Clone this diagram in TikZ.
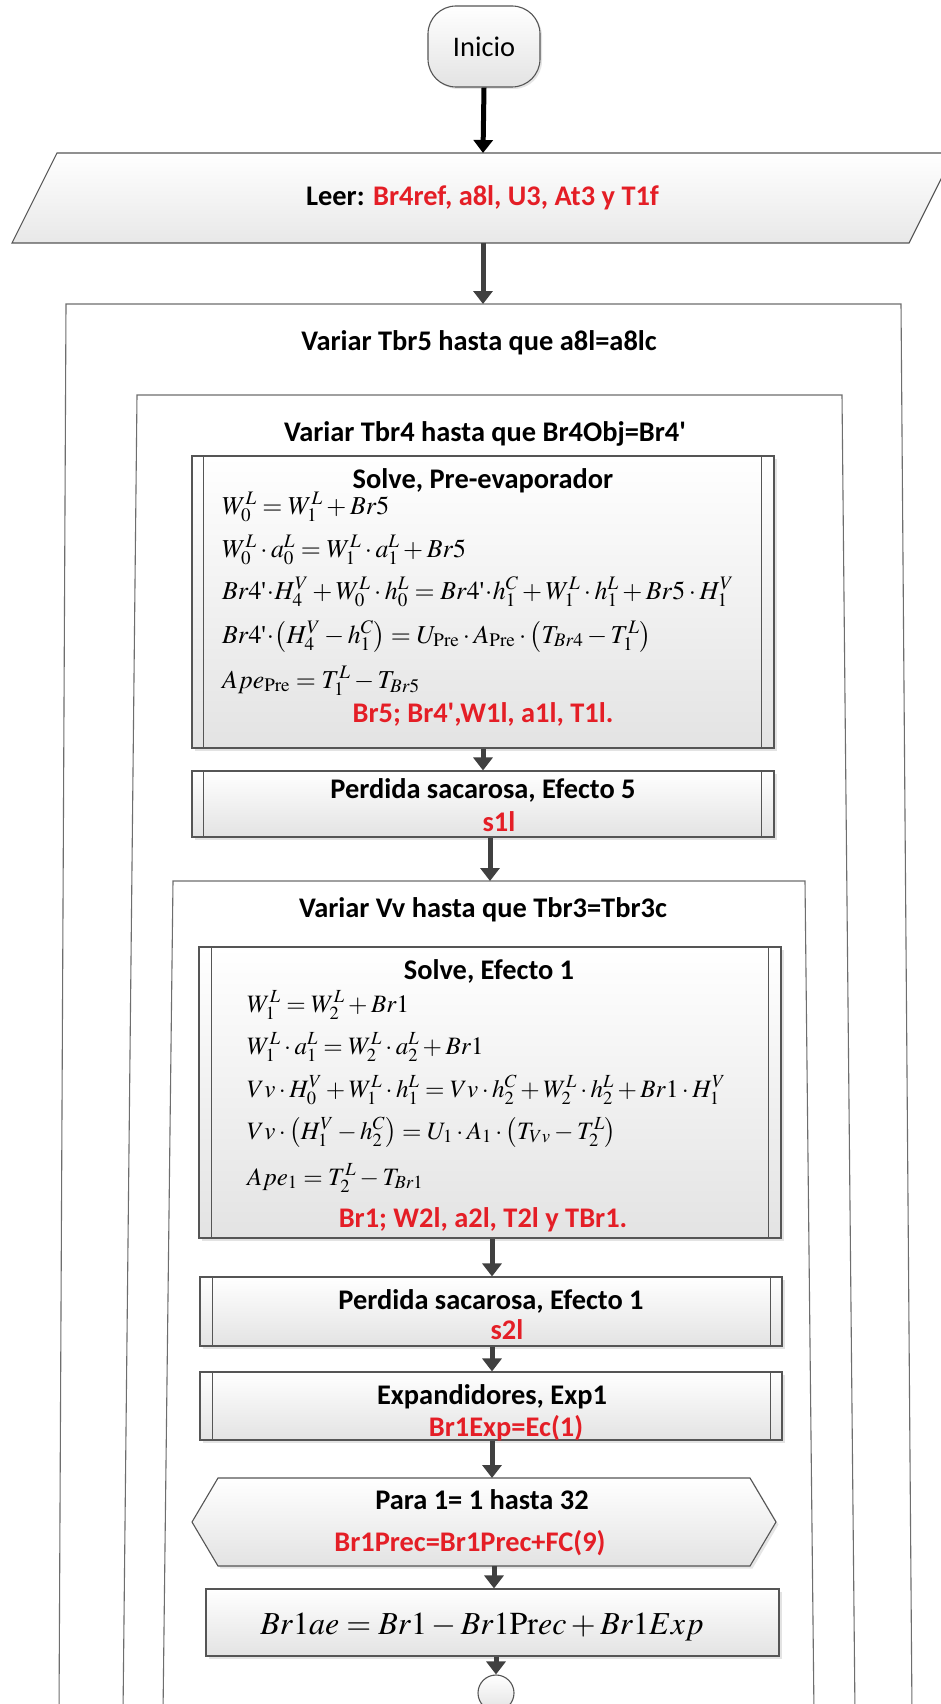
\documentclass[tikz,border=0pt]{standalone}
\usepackage{mathptmx}
\usepackage[no-math]{fontspec}
\setmainfont{Carlito}
\newfontfamily\tnrfont{Liberation Serif}
\usetikzlibrary{arrows.meta,shadows,calc}
\definecolor{redtxt}{RGB}{228,30,38}
\definecolor{boxdraw}{RGB}{85,85,85}
\definecolor{loopdraw}{RGB}{110,110,110}
\definecolor{arrowgray}{RGB}{64,64,64}
\newcommand{\sq}{\mbox{\tnrfont\textquotesingle}}
\begin{document}
\begin{tikzpicture}[x=1pt,y=-1pt,
  lbl/.style={font=\fontsize{28.4}{34}\selectfont\bfseries, inner sep=0pt, anchor=base},
  redlbl/.style={lbl, text=redtxt},
  eqn/.style={font=\fontsize{25}{30}\selectfont, inner sep=0pt, anchor=base west},
  eqnb/.style={font=\fontsize{25.8}{30}\selectfont, inner sep=0pt, anchor=base west},
  shade1/.style={top color=white, bottom color=black!11},
  procbox/.style={draw=boxdraw, line width=1.1pt, shade1, inner sep=0pt,
    drop shadow={shadow xshift=2.5pt, shadow yshift=-2.5pt, opacity=0.22}},
  innerline/.style={draw=boxdraw, line width=1pt},
  loopline/.style={draw=loopdraw, line width=1.1pt},
  flow/.style={draw=arrowgray, line width=5pt, -{Triangle[width=19pt,length=13pt]}},
]
\useasboundingbox (0,0) rectangle (940,1704);
\fill[white] (0,0) rectangle (940,1704);

% Inicio
\node[draw=boxdraw, line width=1.1pt, rounded corners=28pt, minimum width=112pt, minimum height=81pt,
  shade1, font=\fontsize{28.4}{34}\selectfont, drop shadow={shadow xshift=2pt, shadow yshift=-2pt, opacity=0.2}]
  (inicio) at (484,46.5) {Inicio};

% Leer parallelogram
\path[draw=boxdraw, line width=1.1pt, top color=white, bottom color=black!9]
  (57,153) -- (954,153) -- (909,243) -- (12,243) -- cycle;
\coordinate (leerN) at (483,153);
\coordinate (leerS) at (483,243);
\node[lbl] (leer) at (482.5,206) {Leer: \textcolor{redtxt}{Br4ref, a8l, U3, At3 y T1f}};

% loop boxes
\draw[loopline] (59,1714) -- (66,304) -- (901,304) -- (912,1714);
\coordinate (b1N) at (483,304);
\node[lbl] (t1) at (479,350) {Variar Tbr5 hasta que a8l=a8lc};

\draw[loopline] (123,1714) -- (137,395) -- (842,395) -- (855,1714);
\node[lbl] (t2) at (485,441) {Variar Tbr4 hasta que Br4Obj=Br4\textquotesingle};

% Solve Pre-evaporador
\node[procbox, minimum width=582pt, minimum height=292pt] (spre) at (483,602) {};
\draw[innerline] ([xshift=12pt]spre.north west) -- ([xshift=12pt]spre.south west);
\draw[innerline] ([xshift=-13pt]spre.north east) -- ([xshift=-13pt]spre.south east);
\node[lbl] (spreT) at (483,488) {Solve, Pre-evaporador};
\node[eqnb] (pe1) at (222,514) {$W_0^L = W_1^L + Br5$};
\node[eqnb] (pe2) at (222,557) {$W_0^L\cdot a_0^L = W_1^L\cdot a_1^L + Br5$};
\node[eqnb] (pe3) at (222,599) {$Br4\sq\!\cdot\! H_4^V + W_0^L\cdot h_0^L = Br4\sq\!\cdot\! h_1^C + W_1^L\cdot h_1^L + Br5\cdot H_1^V$};
\node[eqnb] (pe4) at (222,643) {$Br4\sq\!\cdot\!\left(H_4^V - h_1^C\right) = U_{\mathrm{Pre}}\cdot A_{\mathrm{Pre}}\cdot\left(T_{Br4} - T_1^L\right)$};
\node[eqnb] (pe5) at (222,688) {$Ape_{\mathrm{Pre}} = T_1^L - T_{Br5}$};
\node[redlbl] (spreR) at (483,722) {Br5; Br4\textquotesingle,W1l, a1l, T1l.};

% Perdida 5
\node[procbox, minimum width=582pt, minimum height=66pt] (perd5) at (483,804) {};
\draw[innerline] ([xshift=12pt]perd5.north west) -- ([xshift=12pt]perd5.south west);
\draw[innerline] ([xshift=-13pt]perd5.north east) -- ([xshift=-13pt]perd5.south east);
\node[lbl] (perd5T) at (483,798) {Perdida sacarosa, Efecto 5};
\node[redlbl] (perd5R) at (499,831) {s1l};

% loop box 3
\draw[loopline] (163,1714) -- (173,881) -- (805,881) -- (814,1714);
\coordinate (b3N) at (490,881);
\node[lbl] (t3) at (483,917) {Variar Vv hasta que Tbr3=Tbr3c};

% Solve Efecto 1
\node[procbox, minimum width=582pt, minimum height=291pt] (sef) at (490,1092.5) {};
\draw[innerline] ([xshift=13pt]sef.north west) -- ([xshift=13pt]sef.south west);
\draw[innerline] ([xshift=-13pt]sef.north east) -- ([xshift=-13pt]sef.south east);
\node[lbl] (sefT) at (489,979) {Solve, Efecto 1};
\node[eqn] (se1) at (247,1012) {$W_1^L = W_2^L + Br1$};
\node[eqn] (se2) at (247,1054) {$W_1^L\cdot a_1^L = W_2^L\cdot a_2^L + Br1$};
\node[eqn] (se3) at (247,1097) {$Vv\cdot H_0^V + W_1^L\cdot h_1^L = Vv\cdot h_2^C + W_2^L\cdot h_2^L + Br1\cdot H_1^V$};
\node[eqn] (se4) at (247,1139) {$Vv\cdot\left(H_1^V - h_2^C\right) = U_1\cdot A_1\cdot\left(T_{Vv} - T_2^L\right)$};
\node[eqn] (se5) at (247,1185) {$Ape_1 = T_2^L - T_{Br1}$};
\node[redlbl] (sefR) at (483,1227) {Br1; W2l, a2l, T2l y TBr1.};

% Perdida Efecto 1
\node[procbox, minimum width=582pt, minimum height=69pt] (perd1) at (491,1311.5) {};
\draw[innerline] ([xshift=13pt]perd1.north west) -- ([xshift=13pt]perd1.south west);
\draw[innerline] ([xshift=-12pt]perd1.north east) -- ([xshift=-12pt]perd1.south east);
\node[lbl] (perd1T) at (491,1309) {Perdida sacarosa, Efecto 1};
\node[redlbl] (perd1R) at (507,1339) {s2l};

% Expandidores
\node[procbox, minimum width=582pt, minimum height=68pt] (expd) at (491,1406) {};
\draw[innerline] ([xshift=13pt]expd.north west) -- ([xshift=13pt]expd.south west);
\draw[innerline] ([xshift=-12pt]expd.north east) -- ([xshift=-12pt]expd.south east);
\node[lbl] (expdT) at (492,1404) {Expandidores, Exp1};
\node[redlbl] (expdR) at (506,1436) {Br1Exp=Ec(1)};

% Hexagon loop
\path[draw=boxdraw, line width=1.1pt, shade1, drop shadow={shadow xshift=2.5pt, shadow yshift=-2.5pt, opacity=0.2}]
  (192,1522) -- (218,1478) -- (750,1478) -- (776,1522) -- (750,1566) -- (218,1566) -- cycle;
\coordinate (hexN) at (492,1478);
\coordinate (hexS) at (494,1566);
\node[lbl] (paraT) at (482,1509) {Para 1= 1 hasta 32};
\node[redlbl] (paraR) at (470,1551) {Br1Prec=Br1Prec+FC(9)};

% Br1ae
\node[procbox, minimum width=573pt, minimum height=67pt] (br1ae) at (492.5,1622.5) {};
\node[font=\fontsize{32}{38}\selectfont, inner sep=0pt, anchor=base] (br1aeT) at (482,1634)
  {$Br1ae = Br1 - Br1\mathrm{Pr}ec + Br1Exp$};

% end connector
\node[draw=boxdraw, line width=1.1pt, circle, minimum size=36pt, shade1] (fin) at (496,1693) {};

% arrows
\draw[flow, draw=black] (inicio.south) -- (leerN);
\draw[flow] (leerS) -- (b1N);
\draw[flow] (spre.south) -- (perd5.north);
\draw[flow] ([xshift=7pt]perd5.south) -- (b3N);
\draw[flow] ([xshift=2pt]sef.south) -- ([xshift=1pt]perd1.north);
\draw[flow] ([xshift=1pt]perd1.south) -- ([xshift=1pt]expd.north);
\draw[flow] ([xshift=1pt]expd.south) -- (hexN);
\draw[flow] (hexS) -- ([xshift=1.5pt]br1ae.north);
\draw[flow] ([xshift=3.5pt]br1ae.south) -- (fin.north);
\end{tikzpicture}
\end{document}
